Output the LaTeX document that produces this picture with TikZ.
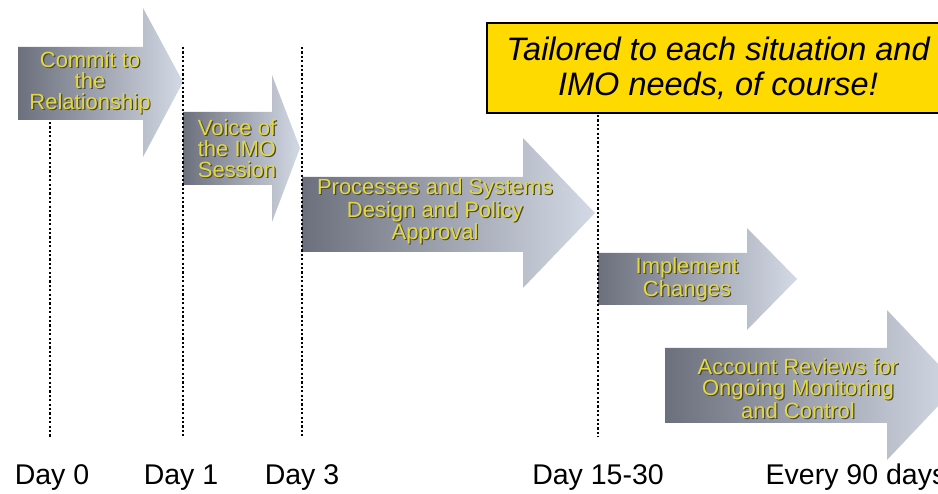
\documentclass[tikz,border=0pt]{standalone}
\usepackage{fontspec}
\setmainfont{Liberation Sans}
\usepackage{tikz}
\usetikzlibrary{positioning}
\definecolor{stagedark}{RGB}{108,112,124}
\definecolor{stagelight}{RGB}{212,217,230}
\definecolor{labelyellow}{RGB}{228,216,64}
\definecolor{labelshadow}{RGB}{70,70,60}
\definecolor{noteyellow}{RGB}{255,218,0}
\newcommand\shadowed[1]{\leavevmode\rlap{\hspace{1.2pt}\raisebox{-1.2pt}{\color{labelshadow}#1}}#1}
\tikzstyle{stage} = [left color=stagedark, right color=stagelight]
\tikzstyle{tick} = [line width=2.3pt, dash pattern=on 2.3pt off 2.1pt]
\tikzset{
 stagetext/.style
  = {text=labelyellow, align=center, inner sep=0pt,
     font=\fontsize{22}{21}\selectfont},
 day/.style
  = {anchor=base, inner sep=0pt, font=\fontsize{28.5}{30}\selectfont},
 note/.style
  = {draw=black, line width=2pt, fill=noteyellow, minimum width=462pt,
     minimum height=90pt, align=center, font=\fontsize{32.5}{35}\selectfont\itshape},
}

\begin{document}
\begin{tikzpicture}[x=1pt, y=-1pt]

\clip (0,0) rectangle (938,494);

% Stage arrows
\shade[stage] (18,47) -- (143,47) -- (143,8) -- (183,82) -- (143,157) -- (143,120) -- (18,120) -- cycle;
\node[stagetext] (commit) at (90,83) {\shadowed{Commit to}\\\shadowed{the}\\\shadowed{Relationship}};

\shade[stage] (183,112) -- (272,112) -- (272,75) -- (300,148) -- (272,222) -- (272,185) -- (183,185) -- cycle;
\node[stagetext] (voice) at (237,149) {\shadowed{Voice of}\\\shadowed{the IMO}\\\shadowed{Session}};

\shade[stage] (302,177) -- (523,177) -- (523,138) -- (595,213) -- (523,288) -- (523,252) -- (302,252) -- cycle;
\node[stagetext] (design) at (435,212) {\shadowed{Processes and Systems}\\\shadowed{Design and Policy}\\\shadowed{Approval}};

\shade[stage] (598,253) -- (747,253) -- (747,228) -- (797,279) -- (747,330) -- (747,305) -- (598,305) -- cycle;
\node[stagetext] (implement) at (687,280) {\shadowed{Implement}\\\shadowed{Changes}};

\shade[stage] (665,348) -- (887,348) -- (887,310) -- (958,385) -- (887,460) -- (887,423) -- (665,423) -- cycle;
\node[stagetext] (review) at (798,389) {\shadowed{Account Reviews for}\\\shadowed{Ongoing Monitoring}\\\shadowed{and Control}};

% Note box
\node[note] (tailored) at (718,68) {Tailored to each situation and\\IMO needs, of course!};

% Day marks
\coordinate (bottom) at (0,437);
\coordinate (tick0) at (50,122);
\coordinate (tick1) at (183,47);
\coordinate (tick3) at (302,47);
\coordinate (tick15) at (598,115);
\foreach \t in {tick0,tick1,tick3,tick15}
  \draw[tick] (\t) -- (\t |- bottom);

% Day labels
\node[day] (day0) at (52,485) {Day 0};
\node[day] (day1) at (181,485) {Day 1};
\node[day] (day3) at (302,485) {Day 3};
\node[day] (day15) at (598,485) {Day 15-30};
\node[day] (day90) at (856,485) {Every 90 days};

\end{tikzpicture}
\end{document}
